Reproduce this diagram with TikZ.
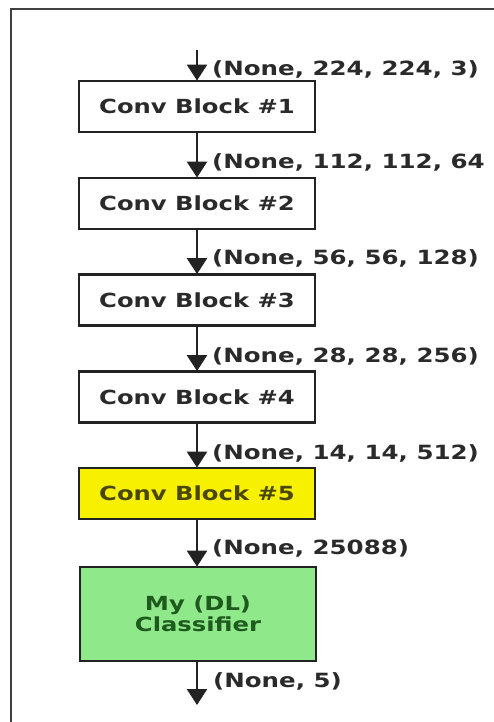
\documentclass[tikz,border=0pt]{standalone}
\usepackage{fontspec}
\newfontfamily\diagfont[FakeStretch=1.25]{DejaVu Sans}
\usetikzlibrary{arrows.meta}
\definecolor{inkgray}{HTML}{2A2A2A}
\definecolor{edgegray}{HTML}{222222}
\definecolor{blockyellow}{HTML}{F7F000}
\definecolor{yellowtext}{HTML}{4A4700}
\definecolor{blockgreen}{HTML}{8FE88A}
\definecolor{greentext}{HTML}{1E5A1E}
\tikzset{
  block/.style={draw=edgegray, line width=2.8pt, fill=white, minimum width=236pt,
    minimum height=51pt, inner sep=0pt, text=inkgray,
    font=\diagfont\bfseries\fontsize{19.4}{21}\selectfont, align=center},
  shape label/.style={anchor=west, inner sep=0pt, text=inkgray,
    font=\diagfont\bfseries\fontsize{19.6}{21}\selectfont},
  flow/.style={draw=edgegray, line width=2.5pt,
    -{Triangle[length=16pt,width=20pt]}, shorten >=-1pt},
  frame/.style={draw=black!75, line width=2.2pt}
}
\begin{document}
\begin{tikzpicture}[x=1pt,y=-1pt]
\useasboundingbox (0,0) rectangle (494,722);
\fill[white] (0,0) rectangle (494,722);
% page frame
\draw[frame] (11,722) -- (11,9) -- (494,9);

% blocks
\node[block] (b1) at (197,106.5) {Conv Block \#1};
\node[block] (b2) at (197,203.5) {Conv Block \#2};
\node[block] (b3) at (197,300) {Conv Block \#3};
\node[block] (b4) at (197,397) {Conv Block \#4};
\node[block, fill=blockyellow, text=yellowtext] (b5) at (197,493.5) {Conv Block \#5};
\node[block, fill=blockgreen, text=greentext, minimum height=94pt] (cls) at (198,614) {My (DL)\\Classifier};

% input and output ends
\coordinate (in) at (197,50);
\coordinate (out) at (197,704);

% connectors
\draw[flow] (in) -- (b1.north);
\draw[flow] (b1) -- (b2);
\draw[flow] (b2) -- (b3);
\draw[flow] (b3) -- (b4);
\draw[flow] (b4) -- (b5);
\draw[flow] (b5.south) -- (b5.south |- cls.north);
\draw[flow] (b5.south |- cls.south) -- (out);

% tensor shapes
\node[shape label] (s1) at (212,69) {(None, 224, 224, 3)};
\node[shape label] (s2) at (212,162) {(None, 112, 112, 64};
\node[shape label] (s3) at (212,258) {(None, 56, 56, 128)};
\node[shape label] (s4) at (212,356) {(None, 28, 28, 256)};
\node[shape label] (s5) at (212,453) {(None, 14, 14, 512)};
\node[shape label] (s6) at (212,548) {(None, 25088)};
\node[shape label] (s7) at (213,681) {(None, 5)};
\end{tikzpicture}
\end{document}
